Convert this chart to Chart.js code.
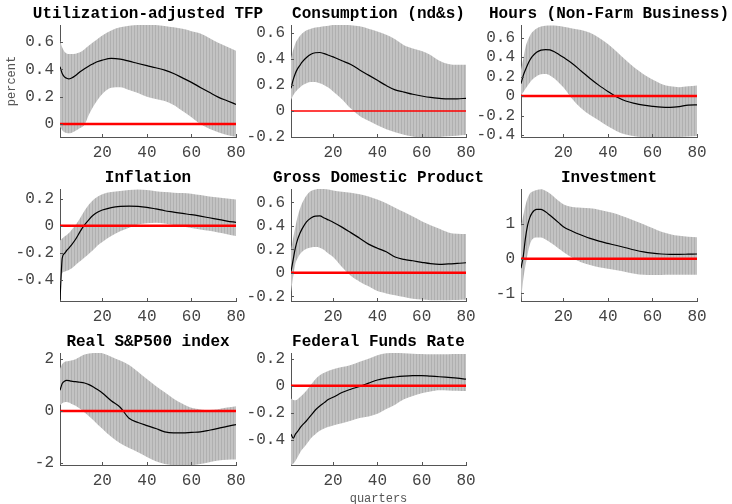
<!DOCTYPE html>
<html><head><meta charset="utf-8">
<script src="https://cdn.jsdelivr.net/npm/chart.js@4/dist/chart.umd.min.js"></script>
<style>html,body{margin:0;padding:0;background:#fff;width:732px;height:504px;overflow:hidden;position:relative}canvas{position:absolute}</style>
</head><body>
<script>
// ---------- data ----------
const QUARTERS = [1,2,3,4,5,6,8,10,12,14,16,18,20,24,28,32,36,40,44,48,52,56,60,64,68,72,76,80];
const X_TICKS = [20,40,60,80];
const TITLES = ["Utilization-adjusted TFP","Consumption (nd&s)","Hours (Non-Farm Business)","Inflation","Gross Domestic Product","Investment","Real S&P500 index","Federal Funds Rate"];

const Y_TICKS_TFP = [0,0.2,0.4,0.6];
const Y_TICKS_CONS = [-0.2,0,0.2,0.4,0.6];
const Y_TICKS_HOURS = [-0.4,-0.2,0,0.2,0.4,0.6];
const Y_TICKS_INFL = [-0.4,-0.2,0,0.2];
const Y_TICKS_GDP = [-0.2,0,0.2,0.4,0.6];
const Y_TICKS_INV = [-1,0,1];
const Y_TICKS_SP = [-2,0,2];
const Y_TICKS_FFR = [-0.4,-0.2,0,0.2];

const Y_RANGE_TFP = [-0.095,0.725];
const Y_RANGE_CONS = [-0.2,0.66];
const Y_RANGE_HOURS = [-0.42,0.73];
const Y_RANGE_INFL = [-0.555,0.27];
const Y_RANGE_GDP = [-0.24,0.715];
const Y_RANGE_INV = [-1.22,2.02];
const Y_RANGE_SP = [-2.07,2.22];
const Y_RANGE_FFR = [-0.59,0.245];

const MED_TFP = [0.42,0.37,0.345,0.335,0.33,0.335,0.355,0.383,0.405,0.425,0.442,0.458,0.468,0.48,0.475,0.46,0.443,0.427,0.412,0.395,0.37,0.338,0.305,0.268,0.232,0.197,0.17,0.144];
const UP_TFP  = [0.61,0.56,0.53,0.517,0.512,0.512,0.515,0.525,0.548,0.575,0.6,0.625,0.648,0.685,0.708,0.72,0.725,0.726,0.725,0.718,0.708,0.697,0.68,0.663,0.63,0.595,0.565,0.537];
const LO_TFP  = [-0.02,-0.045,-0.06,-0.066,-0.068,-0.066,-0.05,-0.03,-0.005,0.07,0.13,0.18,0.22,0.265,0.27,0.25,0.228,0.2,0.183,0.168,0.14,0.095,0.05,0.0,-0.035,-0.06,-0.08,-0.093];

const MED_CONS = [0.174,0.24,0.29,0.325,0.35,0.375,0.41,0.435,0.447,0.449,0.44,0.428,0.415,0.385,0.357,0.315,0.275,0.235,0.195,0.162,0.145,0.128,0.115,0.104,0.097,0.092,0.093,0.097];
const UP_CONS  = [0.4,0.47,0.52,0.55,0.575,0.595,0.62,0.632,0.64,0.645,0.65,0.655,0.66,0.662,0.658,0.65,0.632,0.61,0.585,0.55,0.505,0.48,0.46,0.43,0.385,0.36,0.354,0.354];
const LO_CONS  = [0.085,0.12,0.145,0.165,0.18,0.195,0.213,0.222,0.222,0.212,0.198,0.178,0.15,0.09,0.018,-0.038,-0.075,-0.11,-0.14,-0.163,-0.182,-0.197,-0.205,-0.205,-0.2,-0.195,-0.19,-0.185];

const MED_HOURS = [0.128,0.21,0.27,0.325,0.37,0.405,0.45,0.472,0.478,0.474,0.455,0.428,0.398,0.335,0.258,0.18,0.11,0.048,-0.01,-0.05,-0.075,-0.093,-0.105,-0.114,-0.116,-0.108,-0.092,-0.09];
const UP_HOURS  = [0.27,0.38,0.5,0.57,0.62,0.655,0.695,0.715,0.722,0.725,0.724,0.72,0.712,0.695,0.678,0.65,0.6,0.535,0.455,0.37,0.29,0.225,0.17,0.125,0.1,0.092,0.1,0.11];
const LO_HOURS  = [0.007,0.04,0.075,0.11,0.14,0.168,0.205,0.225,0.226,0.212,0.18,0.138,0.09,-0.03,-0.125,-0.195,-0.25,-0.31,-0.36,-0.395,-0.413,-0.422,-0.426,-0.427,-0.425,-0.42,-0.415,-0.41];

const MED_INFL = [-0.545,-0.24,-0.205,-0.183,-0.165,-0.145,-0.1,-0.044,0.005,0.045,0.078,0.1,0.115,0.133,0.142,0.144,0.142,0.135,0.123,0.11,0.1,0.09,0.081,0.07,0.058,0.046,0.034,0.024];
const UP_INFL  = [-0.11,-0.095,-0.08,-0.068,-0.055,-0.035,0.005,0.055,0.11,0.155,0.19,0.215,0.232,0.248,0.255,0.262,0.266,0.262,0.253,0.247,0.243,0.24,0.235,0.225,0.215,0.207,0.2,0.193];
const LO_INFL  = [-0.54,-0.35,-0.34,-0.333,-0.326,-0.318,-0.29,-0.263,-0.235,-0.207,-0.178,-0.145,-0.12,-0.077,-0.042,-0.015,0.008,0.018,0.022,0.016,0.005,-0.006,-0.018,-0.028,-0.038,-0.05,-0.063,-0.076];

const MED_GDP = [0.01,0.115,0.215,0.285,0.335,0.375,0.435,0.468,0.484,0.485,0.468,0.45,0.432,0.39,0.343,0.295,0.245,0.21,0.18,0.135,0.115,0.103,0.09,0.078,0.072,0.076,0.08,0.086];
const UP_GDP  = [0.19,0.3,0.394,0.48,0.545,0.594,0.66,0.697,0.71,0.714,0.714,0.71,0.702,0.692,0.682,0.67,0.65,0.625,0.594,0.556,0.518,0.48,0.44,0.405,0.375,0.345,0.333,0.331];
const LO_GDP  = [-0.163,-0.03,0.08,0.125,0.158,0.18,0.205,0.217,0.22,0.215,0.195,0.162,0.135,0.05,-0.025,-0.075,-0.115,-0.155,-0.175,-0.19,-0.205,-0.22,-0.228,-0.233,-0.234,-0.233,-0.231,-0.229];

const MED_INV = [-0.27,0.07,0.6,0.98,1.2,1.33,1.43,1.43,1.36,1.26,1.15,1.04,0.93,0.8,0.69,0.59,0.51,0.445,0.385,0.32,0.255,0.2,0.163,0.14,0.13,0.13,0.135,0.14];
const UP_INV  = [0.93,1.25,1.55,1.76,1.89,1.94,1.99,2.01,1.97,1.89,1.78,1.67,1.58,1.5,1.48,1.46,1.42,1.36,1.3,1.2,1.1,1.0,0.89,0.78,0.71,0.665,0.64,0.625];
const LO_INV  = [-1.2,-0.6,-0.2,0.15,0.42,0.56,0.62,0.615,0.56,0.48,0.39,0.29,0.2,0.03,-0.1,-0.18,-0.245,-0.29,-0.33,-0.38,-0.43,-0.46,-0.465,-0.465,-0.462,-0.46,-0.46,-0.46];

const MED_SP = [0.79,1.05,1.14,1.17,1.16,1.14,1.12,1.1,1.07,1.01,0.92,0.81,0.69,0.39,0.14,-0.28,-0.44,-0.56,-0.67,-0.8,-0.84,-0.84,-0.82,-0.8,-0.74,-0.67,-0.59,-0.52];
const UP_SP  = [1.62,1.8,1.88,1.9,1.91,1.93,1.98,2.08,2.16,2.2,2.22,2.23,2.21,2.08,1.93,1.76,1.5,1.22,0.96,0.72,0.47,0.28,0.12,0.06,0.04,0.07,0.13,0.18];
const LO_SP  = [0.22,0.3,0.33,0.34,0.32,0.28,0.2,0.08,-0.06,-0.2,-0.36,-0.53,-0.68,-0.99,-1.24,-1.42,-1.58,-1.76,-1.93,-2.03,-2.08,-2.1,-2.08,-2.03,-1.96,-1.9,-1.87,-1.86];

const MED_FFR = [-0.36,-0.39,-0.36,-0.34,-0.315,-0.295,-0.26,-0.22,-0.18,-0.15,-0.125,-0.1,-0.085,-0.05,-0.025,-0.004,0.02,0.044,0.058,0.066,0.072,0.076,0.077,0.072,0.068,0.063,0.058,0.05];
const UP_FFR  = [-0.095,-0.105,-0.108,-0.1,-0.085,-0.07,-0.035,0.008,0.05,0.08,0.098,0.112,0.123,0.14,0.156,0.18,0.202,0.228,0.243,0.245,0.243,0.24,0.238,0.236,0.235,0.236,0.237,0.238];
const LO_FFR  = [-0.59,-0.58,-0.56,-0.53,-0.5,-0.475,-0.435,-0.39,-0.36,-0.335,-0.318,-0.305,-0.295,-0.278,-0.26,-0.24,-0.228,-0.208,-0.172,-0.14,-0.1,-0.075,-0.055,-0.042,-0.033,-0.034,-0.036,-0.038];

// ---------- layout ----------
const COL_X = [[60,236],[291,466],[521,697]];
const ROW_Y = [[25,137],[189,301],[353,465]];

const PANELS = [
  {title:TITLES[0], yt:Y_TICKS_TFP, range:Y_RANGE_TFP, med:MED_TFP, up:UP_TFP, lo:LO_TFP, c:0, r:0, yTitle:'percent', zw:2.5},
  {title:TITLES[1], yt:Y_TICKS_CONS, range:Y_RANGE_CONS, med:MED_CONS, up:UP_CONS, lo:LO_CONS, c:1, r:0, zw:1.5},
  {title:TITLES[2], yt:Y_TICKS_HOURS, range:Y_RANGE_HOURS, med:MED_HOURS, up:UP_HOURS, lo:LO_HOURS, c:2, r:0, zw:2.5},
  {title:TITLES[3], yt:Y_TICKS_INFL, range:Y_RANGE_INFL, med:MED_INFL, up:UP_INFL, lo:LO_INFL, c:0, r:1, zw:2.5},
  {title:TITLES[4], yt:Y_TICKS_GDP, range:Y_RANGE_GDP, med:MED_GDP, up:UP_GDP, lo:LO_GDP, c:1, r:1, zw:2.5},
  {title:TITLES[5], yt:Y_TICKS_INV, range:Y_RANGE_INV, med:MED_INV, up:UP_INV, lo:LO_INV, c:2, r:1, zw:2.5},
  {title:TITLES[6], yt:Y_TICKS_SP, range:Y_RANGE_SP, med:MED_SP, up:UP_SP, lo:LO_SP, c:0, r:2, zw:2.5},
  {title:TITLES[7], yt:Y_TICKS_FFR, range:Y_RANGE_FFR, med:MED_FFR, up:UP_FFR, lo:LO_FFR, c:1, r:2, xTitle:'quarters', zw:2.5}
];

const FONT = 'Liberation Mono';
const pts = arr => arr.map((v,i)=>({x:QUARTERS[i], y:v}));

const innerTicks = {
  id:'innerTicks',
  afterDraw(chart){
    const {ctx, chartArea:a, scales} = chart;
    ctx.save();
    ctx.strokeStyle = '#555'; ctx.lineWidth = 1;
    ctx.beginPath();
    scales.x.ticks.forEach(t=>{ const px = Math.round(scales.x.getPixelForValue(t.value))+0.5; ctx.moveTo(px, a.bottom); ctx.lineTo(px, a.bottom-3); });
    scales.y.ticks.forEach(t=>{ const py = Math.round(scales.y.getPixelForValue(t.value))+0.5; ctx.moveTo(a.left, py); ctx.lineTo(a.left+3, py); });
    ctx.stroke();
    ctx.restore();
  }
};
const panelTitle = {
  id:'panelTitle',
  afterDraw(chart, args, opts){
    const {ctx, chartArea:a} = chart;
    ctx.save();
    ctx.font = 'bold 16px "' + FONT + '"';
    ctx.fillStyle = '#000'; ctx.textAlign = 'center'; ctx.textBaseline = 'alphabetic';
    ctx.fillText(opts.text, (a.left+a.right)/2, a.top - 7.5);
    ctx.restore();
  }
};

PANELS.forEach(p=>{
  const [pl,pr] = COL_X[p.c], [pt,pb] = ROW_Y[p.r];
  const W = (pr-pl)+120, H = (pb-pt)+25+41;
  const cv = document.createElement('canvas');
  cv.width = W; cv.height = H;
  cv.style.left = (pl-60)+'px'; cv.style.top = (pt-25)+'px';
  cv.style.width = W+'px'; cv.style.height = H+'px';
  document.body.appendChild(cv);
  const ctx = cv.getContext('2d');
  const pc = document.createElement('canvas'); pc.width = 3; pc.height = 1;
  const pg = pc.getContext('2d');
  pg.fillStyle = '#c3c3c3'; pg.fillRect(0,0,3,1);
  pg.fillStyle = '#b0b0b0'; pg.fillRect(2,0,1,1);
  const pattern = ctx.createPattern(pc,'repeat');

  new Chart(cv, {
    type:'line',
    data:{datasets:[
      {data:[{x:1,y:0},{x:80,y:0}], borderColor:'#ff0000', borderWidth:p.zw, pointRadius:0, fill:false},
      {data:pts(p.med), borderColor:'#000', borderWidth:1.2, pointRadius:0, cubicInterpolationMode:'monotone', fill:false},
      {data:pts(p.up), borderColor:'rgba(0,0,0,0)', borderWidth:0, backgroundColor:pattern, pointRadius:0, cubicInterpolationMode:'monotone', fill:'+1'},
      {data:pts(p.lo), borderColor:'rgba(0,0,0,0)', borderWidth:0, pointRadius:0, cubicInterpolationMode:'monotone', fill:false}
    ]},
    options:{
      responsive:false, animation:false, devicePixelRatio:1,
      layout:{padding:{left:0,right:60,top:25,bottom:0}},
      plugins:{legend:{display:false}, tooltip:{enabled:false}, title:{display:false}, panelTitle:{text:p.title}},
      scales:{
        x:{type:'linear', min:1, max:80,
           afterBuildTicks:s=>{ s.ticks = X_TICKS.map(v=>({value:v})); },
           afterFit:s=>{ s.height = 41; },
           grid:{display:false, drawTicks:false},
           border:{display:true, color:'#555', width:1},
           ticks:{font:{family:FONT, size:16}, color:'#444', padding:6, maxRotation:0, autoSkip:false, callback:v=>String(v)},
           title:{display:!!p.xTitle, text:p.xTitle||'', color:'#555', font:{family:FONT, size:12}, padding:{top:0,bottom:0}}
        },
        y:{type:'linear', min:p.range[0], max:p.range[1],
           afterBuildTicks:s=>{ s.ticks = p.yt.map(v=>({value:v})); },
           afterFit:s=>{ s.width = 60; },
           grid:{display:false, drawTicks:false},
           border:{display:true, color:'#555', width:1},
           ticks:{font:{family:FONT, size:16}, color:'#444', padding:6, autoSkip:false, callback:v=>String(v)},
           title:{display:!!p.yTitle, text:p.yTitle||'', color:'#555', font:{family:FONT, size:12}, padding:{top:5,bottom:0}}
        }
      }
    },
    plugins:[innerTicks, panelTitle]
  });
});
</script>
</body></html>
